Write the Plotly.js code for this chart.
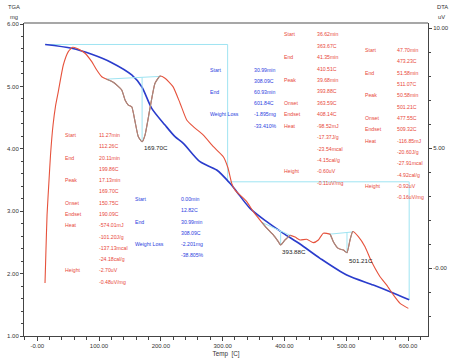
<!DOCTYPE html>
<html>
<head>
<meta charset="utf-8">
<script src="https://cdn.plot.ly/plotly-3.0.1.min.js"></script>
<style>html,body{margin:0;padding:0;background:#fff;}#chart{width:451px;height:361px;}</style>
</head>
<body>
<div id="chart"></div>
<script>
// ---------------- DATA ----------------
// TGA curve (mg) vs temperature (C)
const tgaTemp = [12.8, 55.8, 88.2, 120.6, 152.9, 169.1, 185.3, 206.8, 223.0, 236.4, 263.4, 290.4, 311.9, 322.8, 344.3, 371.4, 398.2, 425.2, 457.6, 500.8, 543.9, 571.0, 601.8];
const tgaMass = [5.672, 5.611, 5.514, 5.380, 5.183, 4.995, 4.649, 4.381, 4.194, 4.088, 3.793, 3.660, 3.447, 3.313, 3.046, 2.832, 2.646, 2.474, 2.245, 1.978, 1.817, 1.710, 1.580];

// DTA curve (uV) vs temperature (C)
const dtaTemp = [12.6, 13.9, 15.9, 19.1, 21.5, 25.6, 29.6, 34.1, 42.2, 50.3, 57.4, 66.5, 77.3, 88.2, 96.3, 104.4, 112.5, 123.1, 136.7, 142.1, 147.4, 152.9, 158.3, 163.6, 169.7, 174.4, 182.5, 190.6, 198.7, 206.8, 219.7, 231.1, 241.9, 252.6, 268.8, 285.0, 301.1, 308.7, 314.7, 320.1, 328.2, 339.0, 349.7, 360.5, 371.4, 382.0, 390.1, 393.9, 401.0, 409.1, 417.2, 425.2, 436.1, 446.8, 454.9, 462.9, 473.8, 479.1, 487.2, 495.3, 501.2, 506.1, 510.5, 519.6, 530.4, 538.5, 546.6, 554.7, 565.5, 576.2, 587.1, 600.5];
const dtaUV = [-0.61, 0.55, 2.22, 3.68, 4.72, 5.97, 6.76, 7.36, 8.47, 9.03, 9.21, 9.14, 8.96, 8.61, 8.26, 7.98, 7.88, 7.75, 7.43, 7.01, 6.80, 6.73, 6.11, 5.48, 5.27, 5.55, 6.67, 7.71, 8.01, 7.92, 7.57, 6.88, 6.18, 5.90, 5.55, 5.07, 4.65, 4.18, 3.54, 3.26, 3.05, 2.78, 2.36, 2.01, 1.67, 1.39, 1.11, 0.97, 1.18, 1.37, 1.30, 1.18, 1.21, 1.07, 1.18, 1.46, 1.42, 1.11, 0.83, 0.76, 0.65, 1.18, 1.53, 1.32, 0.90, 0.42, 0.00, -0.35, -0.70, -1.11, -1.46, -1.67];

// DTA peak analysis (C)
const peakStart = [112.26, 363.67, 473.23];
const peakEnd   = [199.86, 410.51, 511.07];
const peakTemp  = [169.70, 393.88, 501.21];
const peakLabel = ['169.70C', '393.88C', '501.21C'];

// TGA step analysis
const stepStart = [12.82, 308.09];
const stepEnd   = [308.09, 601.84];
const stepLoss  = [2.201, 1.895]; // mg

// Tick labels
const xTickVals = [0, 100, 200, 300, 400, 500, 600];
const xTickText = ['-0.00', '100.00', '200.00', '300.00', '400.00', '500.00', '600.00'];
const yTickVals = [1, 2, 3, 4, 5, 6];
const yTickText = ['1.00', '2.00', '3.00', '4.00', '5.00', '6.00'];
const y2TickVals = [0, 5, 10];
const y2TickText = ['-0.00', '5.00', '10.00'];

// Result text blocks
const peakRowLabels = ['Start', 'End', 'Peak', 'Onset', 'Endset', 'Heat', 'Height'];
const peak1Values = ['11.27min', '112.26C', '20.11min', '199.86C', '17.13min', '169.70C', '150.75C', '190.09C', '-574.01mJ', '-101.20J/g', '-137.13mcal', '-24.18cal/g', '-2.70uV', '-0.48uV/mg'];
const peak2Values = ['36.62min', '363.67C', '41.35min', '410.51C', '39.68min', '393.88C', '363.59C', '408.14C', '-98.52mJ', '-17.37J/g', '-23.54mcal', '-4.15cal/g', '-0.60uV', '-0.11uV/mg'];
const peak3Values = ['47.70min', '473.23C', '51.58min', '511.07C', '50.58min', '501.21C', '477.55C', '509.32C', '-116.85mJ', '-20.60J/g', '-27.91mcal', '-4.92cal/g', '-0.92uV', '-0.16uV/mg'];
const stepRowLabels = ['Start', 'End', 'Weight Loss'];
const step1Values = ['0.00min', '12.82C', '30.99min', '308.09C', '-2.201mg', '-38.805%'];
const step2Values = ['30.99min', '308.09C', '60.93min', '601.84C', '-1.895mg', '-33.410%'];

// ---------------- helpers ----------------
function interp(xs, ys, x) {
  if (x <= xs[0]) return ys[0];
  for (let i = 1; i < xs.length; i++) {
    if (x <= xs[i]) {
      const t = (x - xs[i - 1]) / (xs[i] - xs[i - 1]);
      return ys[i - 1] + t * (ys[i] - ys[i - 1]);
    }
  }
  return ys[ys.length - 1];
}
function segment(xs, ys, a, b) {
  const sx = [a], sy = [interp(xs, ys, a)];
  for (let i = 0; i < xs.length; i++) if (xs[i] > a && xs[i] < b) { sx.push(xs[i]); sy.push(ys[i]); }
  sx.push(b); sy.push(interp(xs, ys, b));
  return {x: sx, y: sy};
}

// ---------------- styles ----------------
const RED = '#e6523c', BLUE = '#2a3ccc', CYAN = '#9fe4f2', GRAYSEG = '#9c8c84';
const TXT_RED = '#e8483a', TXT_BLUE = '#2c3ee0';
const FONT = 'Liberation Sans, Arial, sans-serif';

// plot box in pixels (for text placement)
const L = 24, R = 428, T = 23, B = 336;
const px = x => (x - L) / (R - L);
const py = y => (B - y) / (B - T);

const traces = [];

// TGA step markers
for (let i = 0; i < stepStart.length; i++) {
  const m0 = i === 0 ? interp(tgaTemp, tgaMass, stepStart[0]) : null;
}
(function () {
  let m = interp(tgaTemp, tgaMass, stepStart[0]);
  const xs = [], ys = [];
  for (let i = 0; i < stepStart.length; i++) {
    xs.push(stepStart[i], stepEnd[i], stepEnd[i]);
    ys.push(m, m, m - stepLoss[i]);
    m = m - stepLoss[i];
  }
  traces.push({x: xs, y: ys, mode: 'lines', line: {color: CYAN, width: 1}, yaxis: 'y', hoverinfo: 'skip'});
})();

// DTA baselines and peak lines
for (let i = 0; i < peakStart.length; i++) {
  const ya = interp(dtaTemp, dtaUV, peakStart[i]);
  const yb = interp(dtaTemp, dtaUV, peakEnd[i]);
  const basePk = ya + (yb - ya) * (peakTemp[i] - peakStart[i]) / (peakEnd[i] - peakStart[i]);
  traces.push({x: [peakStart[i], peakEnd[i]], y: [ya, yb], mode: 'lines', line: {color: CYAN, width: 1}, yaxis: 'y2', hoverinfo: 'skip'});
  traces.push({x: [peakTemp[i], peakTemp[i]], y: [basePk, interp(dtaTemp, dtaUV, peakTemp[i])], mode: 'lines', line: {color: CYAN, width: 1}, yaxis: 'y2', hoverinfo: 'skip'});
}

// DTA curve
traces.push({x: dtaTemp, y: dtaUV, mode: 'lines', line: {color: RED, width: 1.1, shape: 'spline', smoothing: 0.5}, yaxis: 'y2', hoverinfo: 'skip'});
// DTA peak segments (grey)
for (let i = 0; i < peakStart.length; i++) {
  const s = segment(dtaTemp, dtaUV, peakStart[i], peakEnd[i]);
  traces.push({x: s.x, y: s.y, mode: 'lines', line: {color: GRAYSEG, width: 1.1, shape: 'spline', smoothing: 0.5}, yaxis: 'y2', hoverinfo: 'skip'});
}
// TGA curve
traces.push({x: tgaTemp, y: tgaMass, mode: 'lines', line: {color: BLUE, width: 1.6, shape: 'spline', smoothing: 0.8}, yaxis: 'y', hoverinfo: 'skip'});

// ---------------- annotations ----------------
const annotations = [];
function addText(x, y, text, color, size, anchor) {
  annotations.push({xref: 'paper', yref: 'paper', x: px(x), y: py(y), text: text, showarrow: false,
    xanchor: anchor || 'left', yanchor: 'middle', font: {family: FONT, size: size, color: color}});
}
function peakBlock(values, lx, vx, y0, dy) {
  const rows = [0, 2, 4, 6, 7, 8, 12];
  peakRowLabels.forEach((lab, k) => addText(lx, y0 + rows[k] * dy, lab, TXT_RED, 5.2));
  values.forEach((v, k) => addText(vx, y0 + k * dy, v, TXT_RED, 5.2));
}
function stepBlock(values, lx, vx, y0, dy) {
  const rows = [0, 2, 4];
  stepRowLabels.forEach((lab, k) => addText(lx, y0 + rows[k] * dy, lab, TXT_BLUE, 5.2));
  values.forEach((v, k) => addText(vx, y0 + k * dy, v, TXT_BLUE, 5.2));
}
peakBlock(peak1Values, 63.3, 96.7, 135, 11.28);
peakBlock(peak2Values, 282.3, 315, 34.3, 11.42);
peakBlock(peak3Values, 362.5, 394.5, 50, 11.33);
stepBlock(step1Values, 133.3, 179.3, 199.3, 11.1);
stepBlock(step2Values, 208.3, 251.7, 70, 11.1);

// peak temperature labels
addText(141.7, 147, peakLabel[0], '#1a1a1a', 6.2);
addText(280, 251.7, peakLabel[1], '#1a1a1a', 6.2);
addText(346.7, 260, peakLabel[2], '#1a1a1a', 6.2);

// axis unit labels
addText(13.8, 7, 'TGA', '#333', 5.8, 'center');
addText(14, 17, 'mg', '#333', 5.8, 'center');
addText(442, 7, 'DTA', '#333', 5.8, 'center');
addText(441.5, 17, 'uV', '#333', 5.8, 'center');

const tickFont = {family: FONT, size: 6, color: '#333'};
const layout = {
  width: 451, height: 361,
  margin: {l: L, r: 451 - R, t: T, b: 361 - B, pad: 0},
  paper_bgcolor: '#ffffff', plot_bgcolor: '#ffffff',
  showlegend: false,
  xaxis: {
    range: [-21.4, 632.3], tickmode: 'array', tickvals: xTickVals, ticktext: xTickText,
    ticks: 'outside', ticklen: 4, tickwidth: 1, tickcolor: '#444',
    showline: true, linecolor: '#444', linewidth: 1, showgrid: false, zeroline: false,
    tickfont: tickFont, automargin: false,
    minor: {tickmode: 'linear', tick0: 0, dtick: 20, ticks: 'outside', ticklen: 2.5, tickcolor: '#444', showgrid: false},
    title: {text: 'Temp  [C]', font: {family: FONT, size: 6.3, color: '#333'}, standoff: 3}
  },
  yaxis: {
    range: [1, 1 + (B - T) / 62.4], tickmode: 'array', tickvals: yTickVals, ticktext: yTickText,
    ticks: 'outside', ticklen: 3, tickwidth: 1, tickcolor: '#444',
    showline: true, linecolor: '#444', linewidth: 1, showgrid: false, zeroline: false,
    tickfont: tickFont, automargin: false,
    minor: {tickmode: 'linear', tick0: 1, dtick: 0.2, ticks: 'outside', ticklen: 2, tickcolor: '#444', showgrid: false}
  },
  yaxis2: {
    overlaying: 'y', side: 'right',
    range: [-(B - 268.3) / 24, (268.3 - T) / 24], tickmode: 'array', tickvals: y2TickVals, ticktext: y2TickText,
    ticks: 'outside', ticklen: 3, tickwidth: 1, tickcolor: '#444',
    showline: true, linecolor: '#444', linewidth: 1, showgrid: false, zeroline: false,
    tickfont: tickFont, automargin: false,
    minor: {tickmode: 'linear', tick0: 0, dtick: 1, ticks: 'outside', ticklen: 2, tickcolor: '#444', showgrid: false}
  },
  shapes: [
    {type: 'line', xref: 'paper', yref: 'paper', x0: 0, x1: 1, y0: 1, y1: 1, line: {color: '#8a8a8a', width: 1.6}}
  ],
  annotations: annotations
};

Plotly.newPlot('chart', traces, layout, {displayModeBar: false, staticPlot: true});
</script>
</body>
</html>
